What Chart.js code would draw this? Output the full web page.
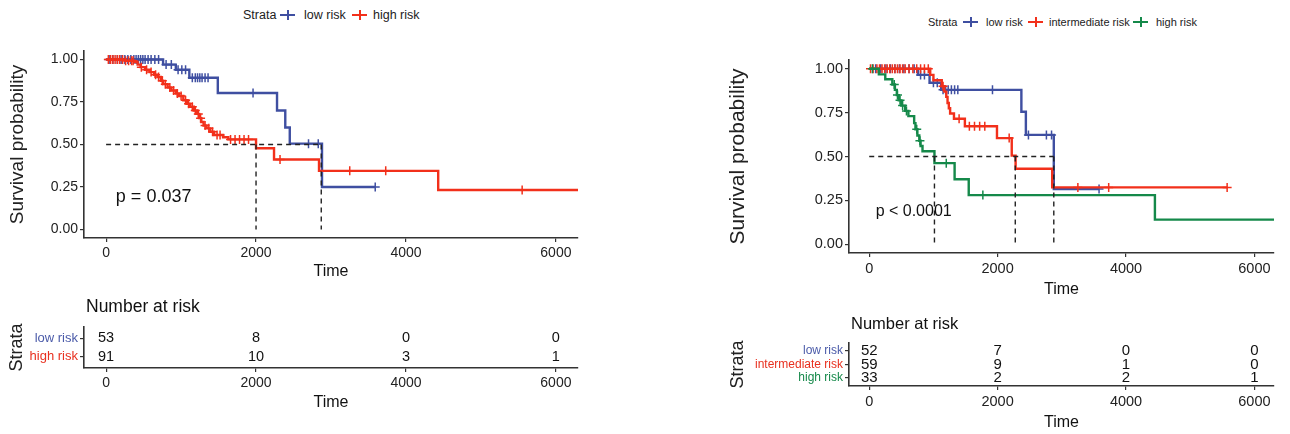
<!DOCTYPE html>
<html>
<head>
<meta charset="utf-8">
<script src="https://cdn.jsdelivr.net/npm/chart.js@4.4.1/dist/chart.umd.min.js"></script>
<style>
  body { margin: 0; background: #fff; width: 1290px; height: 434px; overflow: hidden; position: relative;
         font-family: "Liberation Sans", Arial, sans-serif; }
  .box { position: absolute; }
  .lg { position: absolute; color: #222; white-space: nowrap; transform: translateY(-50%); }
  .sym { position: absolute; width: 15px; height: 2px; }
  .sym::after { content: ''; position: absolute; left: 6.5px; top: -4px; width: 2px; height: 10px; background: inherit; }
</style>
</head>
<body>
<div class="box" style="left:0;top:35px"><canvas id="kmLeft" width="600" height="246"></canvas></div>
<div class="box" style="left:0;top:295px"><canvas id="riskLeft" width="600" height="139"></canvas></div>
<div class="box" style="left:690px;top:40px"><canvas id="kmRight" width="600" height="259"></canvas></div>
<div class="box" style="left:690px;top:310px"><canvas id="riskRight" width="600" height="124"></canvas></div>
<div id="legends"></div>
<script>
const timeTicks = [0, 2000, 4000, 6000];
const survTicks = [0, 0.25, 0.5, 0.75, 1];

// left panel
const leftStrata = ['low risk', 'high risk'];
const leftLowTimes = [0, 760, 930, 1110, 1490, 2280, 2390, 2450, 2880, 3590];
const leftLowSurv = [1, 0.97, 0.94, 0.893, 0.803, 0.70, 0.60, 0.505, 0.25, 0.25];
const leftLowCensor = [40, 90, 150, 200, 250, 290, 330, 370, 400, 430, 460, 490, 520, 560, 600, 650, 700,
  800, 870, 960, 1010, 1060, 1150, 1190, 1220, 1250, 1280, 1320, 1360, 1960, 2700, 2830, 3590];
const leftHighTimes = [0, 250, 380, 420, 460, 520, 580, 640, 690, 730, 760, 820, 870, 930, 970, 1030, 1080,
  1120, 1170, 1210, 1240, 1270, 1300, 1340, 1390, 1440, 1560, 1630, 2000, 2240, 2840, 4430, 6400];
const leftHighSurv = [1, 0.993, 0.985, 0.97, 0.955, 0.94, 0.926, 0.91, 0.897, 0.875, 0.855, 0.835, 0.818, 0.8,
  0.785, 0.76, 0.74, 0.722, 0.70, 0.68, 0.655, 0.632, 0.612, 0.595, 0.575, 0.556, 0.543, 0.53, 0.478, 0.412,
  0.345, 0.232, 0.232];
const leftHighCensor = [30, 60, 90, 120, 150, 180, 220, 260, 300, 340, 360, 470, 540, 600, 660, 700, 750, 790,
  850, 900, 950, 1000, 1060, 1100, 1150, 1190, 1230, 1260, 1320, 1370, 1420, 1480, 1520, 1660, 1720, 1780,
  1840, 1900, 2320, 3250, 3730, 5550];
const leftMedians = [2000, 2870];
const leftRisk = [[53, 8, 0, 0], [91, 10, 3, 1]];
const leftP = 'p = 0.037';

// right panel
const rightStrata = ['low risk', 'intermediate risk', 'high risk'];
const rightLowTimes = [0, 760, 940, 1120, 2370, 2440, 2875, 3580];
const rightLowSurv = [1, 0.965, 0.92, 0.88, 0.755, 0.623, 0.315, 0.315];
const rightLowCensor = [100, 180, 260, 330, 400, 470, 540, 620, 700, 800, 860, 1000, 1060, 1150, 1190, 1230,
  1280, 1330, 1380, 1920, 2480, 2760, 2840, 3580];
const rightMidTimes = [0, 950, 1000, 1130, 1170, 1200, 1220, 1240, 1260, 1320, 1490, 1990, 2220, 2280, 2850, 5575];
const rightMidSurv = [1, 0.965, 0.935, 0.9, 0.87, 0.84, 0.805, 0.775, 0.745, 0.715, 0.672, 0.605, 0.505, 0.43,
  0.324, 0.324];
const rightMidCensor = [20, 60, 120, 160, 200, 240, 280, 320, 360, 400, 440, 480, 520, 560, 620, 680, 740, 800,
  860, 920, 1150, 1400, 1560, 1640, 1720, 1800, 2180, 3250, 3730, 5575];
const rightHighTimes = [0, 150, 250, 360, 400, 430, 460, 500, 560, 610, 700, 720, 750, 780, 800, 830, 1016,
  1330, 1550, 4450, 6400];
const rightHighSurv = [1, 0.968, 0.94, 0.91, 0.88, 0.85, 0.82, 0.79, 0.76, 0.73, 0.69, 0.655, 0.62, 0.59, 0.56,
  0.53, 0.462, 0.37, 0.28, 0.14, 0.14];
const rightHighCensor = [50, 390, 440, 480, 520, 580, 740, 790, 1200, 1770];
const rightMedians = [1016, 2275, 2875];
const rightRisk = [[52, 7, 0, 0], [59, 9, 1, 0], [33, 2, 2, 1]];
const rightP = 'p < 0.0001';

const BLUE = '#3F4FA1';
const RED = '#F2301B';
const GREEN = '#15894A';
const LABEL_COLORS = { 'low risk': '#4B5BA9', 'intermediate risk': '#E8301F', 'high risk': '#E8301F' };
const FONT = '"Liberation Sans", Arial, sans-serif';
Chart.defaults.font.family = FONT;
Chart.defaults.color = '#222';

function stepAt(times, surv, t) {
  let v = surv[0];
  for (let i = 0; i < times.length; i++) if (times[i] <= t) v = surv[i];
  return v;
}

function axisX(L, title) {
  return {
    type: 'linear', min: L.xmin, max: L.xmax,
    afterBuildTicks: (s) => { s.ticks = timeTicks.map((v) => ({ value: v })); },
    afterFit: (s) => { s.height = L.xh; },
    ticks: { font: { size: L.tick }, color: '#222', padding: 3, maxRotation: 0, autoSkip: false, callback: (v) => String(v) },
    grid: { display: true, drawOnChartArea: false, tickLength: 4, color: '#333', lineWidth: 1.2 },
    border: { display: true, color: '#333', width: 1.6 },
    title: { display: true, text: title, font: { size: 16 }, color: '#111', padding: { top: 0, bottom: 0 } },
  };
}

function kmChart(id, groups, medians, pText, L) {
  const datasets = [];
  const top = Math.max(...medians);
  datasets.push({ data: [{ x: 0, y: 0.5 }, { x: top, y: 0.5 }], showLine: true, borderColor: '#222',
    borderWidth: 1.4, borderDash: [5, 4], pointRadius: 0 });
  medians.forEach((m) => datasets.push({ data: [{ x: m, y: 0.5 }, { x: m, y: 0 }], showLine: true,
    borderColor: '#222', borderWidth: 1.4, borderDash: [5, 4], pointRadius: 0 }));
  groups.slice().reverse().forEach((g) => {
    datasets.push({ data: g.censor.map((t) => ({ x: t, y: stepAt(g.times, g.surv, t) })), showLine: false,
      pointStyle: 'cross', pointRadius: 4.5, borderColor: g.color, borderWidth: 1.5 });
    datasets.push({ data: g.times.map((t, i) => ({ x: t, y: g.surv[i] })), showLine: true, stepped: true,
      borderColor: g.color, borderWidth: 2.4, pointRadius: 0 });
  });
  new Chart(document.getElementById(id), {
    type: 'scatter',
    data: { datasets },
    options: {
      responsive: false, animation: false,
      layout: { padding: L.pad },
      plugins: { legend: { display: false }, tooltip: { enabled: false } },
      scales: {
        x: axisX(L, 'Time'),
        y: {
          type: 'linear', min: -0.05, max: 1.05,
          afterBuildTicks: (s) => { s.ticks = survTicks.map((v) => ({ value: v })); },
          afterFit: (s) => { s.width = L.yw; },
          ticks: { font: { size: L.tick }, color: '#222', padding: 2, callback: (v) => v.toFixed(2) },
          grid: { display: true, drawOnChartArea: false, tickLength: 4, color: '#333', lineWidth: 1.2 },
          border: { display: true, color: '#333', width: 1.6 },
          title: { display: true, text: 'Survival probability', font: { size: L.ytitle }, color: '#222',
            padding: { top: L.ytitlePad, bottom: 0 } },
        },
      },
    },
    plugins: [{
      id: 'pval',
      afterDatasetsDraw(chart) {
        const { ctx, scales } = chart;
        ctx.save();
        ctx.font = `${L.pSize}px ${FONT}`;
        ctx.fillStyle = '#111';
        ctx.textAlign = 'left';
        ctx.textBaseline = 'middle';
        ctx.fillText(pText, scales.x.getPixelForValue(L.pAt[0]), scales.y.getPixelForValue(L.pAt[1]));
        ctx.restore();
      },
    }],
  });
}

function riskChart(id, strata, risk, L) {
  const datasets = strata.map((s, i) => ({ data: timeTicks.map((t) => ({ x: t, y: i + 1 })), pointRadius: 0 }));
  new Chart(document.getElementById(id), {
    type: 'scatter',
    data: { datasets },
    options: {
      responsive: false, animation: false,
      layout: { padding: L.pad },
      plugins: { legend: { display: false }, tooltip: { enabled: false } },
      scales: {
        x: axisX(L, 'Time'),
        y: {
          type: 'linear', min: 0.4, max: strata.length + 0.6, reverse: true,
          afterBuildTicks: (s) => { s.ticks = strata.map((n, i) => ({ value: i + 1 })); },
          afterFit: (s) => { s.width = L.yw; },
          ticks: { font: { size: L.rowFont }, padding: 2, callback: (v) => strata[v - 1],
            color: (c) => (strata[c.index] === 'high risk' && strata.length === 3 ? GREEN : LABEL_COLORS[strata[c.index]]) },
          grid: { display: true, drawOnChartArea: false, tickLength: 4, color: '#333', lineWidth: 1.2 },
          border: { display: true, color: '#333', width: 1.6 },
          title: { display: true, text: 'Strata', font: { size: 18 }, color: '#222', padding: { top: L.ytitlePad, bottom: 0 } },
        },
      },
    },
    plugins: [{
      id: 'riskText',
      afterDatasetsDraw(chart) {
        const { ctx, chartArea } = chart;
        ctx.save();
        ctx.fillStyle = '#111';
        ctx.textAlign = 'center';
        ctx.textBaseline = 'middle';
        ctx.font = `${L.numFont}px ${FONT}`;
        risk.forEach((row, i) => {
          chart.getDatasetMeta(i).data.forEach((pt, j) => ctx.fillText(String(row[j]), pt.x, pt.y));
        });
        ctx.textAlign = 'left';
        ctx.font = `${L.titleFont}px ${FONT}`;
        ctx.fillText('Number at risk', chartArea.left + 2, L.titleY);
        ctx.restore();
      },
    }],
  });
}

kmChart('kmLeft', [
  { times: leftLowTimes, surv: leftLowSurv, censor: leftLowCensor, color: BLUE },
  { times: leftHighTimes, surv: leftHighSurv, censor: leftHighCensor, color: RED },
], leftMedians, leftP, {
  xmin: -295, xmax: 6295, pad: { top: 16, right: 22, left: 0, bottom: 0 }, yw: 84, xh: 43,
  tick: 14, ytitle: 19, ytitlePad: 6, pSize: 18, pAt: [130, 0.19],
});

kmChart('kmRight', [
  { times: rightLowTimes, surv: rightLowSurv, censor: rightLowCensor, color: BLUE },
  { times: rightMidTimes, surv: rightMidSurv, censor: rightMidCensor, color: RED },
  { times: rightHighTimes, surv: rightHighSurv, censor: rightHighCensor, color: GREEN },
], rightMedians, rightP, {
  xmin: -315, xmax: 6305, pad: { top: 20, right: 16, left: 0, bottom: 0 }, yw: 159, xh: 46,
  tick: 14.5, ytitle: 21, ytitlePad: 36, pSize: 16, pAt: [100, 0.185],
});

riskChart('riskLeft', leftStrata, leftRisk, {
  xmin: -295, xmax: 6295, pad: { top: 32, right: 22, left: 0, bottom: 22 }, yw: 84, xh: 44,
  tick: 14, rowFont: 13, numFont: 14.5, titleFont: 17.5, titleY: 12, ytitlePad: 6,
});

riskChart('riskRight', rightStrata, rightRisk, {
  xmin: -315, xmax: 6305, pad: { top: 33, right: 16, left: 0, bottom: 2 }, yw: 159, xh: 46,
  tick: 14.5, rowFont: 12, numFont: 15, titleFont: 16.5, titleY: 14, ytitlePad: 37,
});

// legends on top of each panel
function legend(strata, colors, xs, y, size) {
  const host = document.getElementById('legends');
  const items = ['Strata'].concat(strata);
  items.forEach((txt, i) => {
    const t = document.createElement('div');
    t.className = 'lg';
    t.style.cssText = `left:${xs[i * 2]}px;top:${y}px;font-size:${size}px`;
    t.textContent = txt;
    host.appendChild(t);
    if (i > 0) {
      const s = document.createElement('div');
      s.className = 'sym';
      s.style.cssText = `left:${xs[i * 2 - 1]}px;top:${y - 1}px;background:${colors[i - 1]}`;
      host.appendChild(s);
    }
  });
}
legend(leftStrata, [BLUE, RED], [243, 280, 304, 352, 373], 15, 12.5);
legend(rightStrata, [BLUE, RED, GREEN], [928, 963, 986, 1028, 1049, 1133, 1156], 22, 11);
</script>
</body>
</html>
